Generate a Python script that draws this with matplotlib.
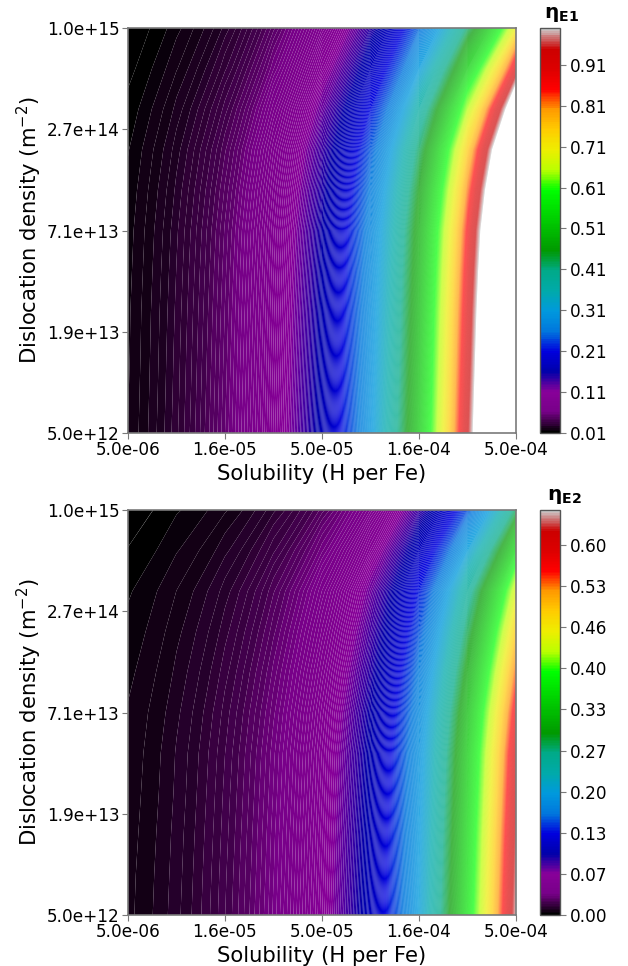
import numpy as np
import matplotlib
matplotlib.use("Agg")
import matplotlib.pyplot as plt

# grid the values were read on
solubility = [5.00e-6, 8.89e-6, 1.58e-5, 2.81e-5, 5.00e-5, 8.89e-5, 1.58e-4, 2.81e-4, 5.00e-4]
dislocation = [5.00e12, 8.49e12, 1.44e13, 2.45e13, 4.16e13, 7.07e13, 1.20e14, 2.04e14, 3.47e14, 5.89e14, 1.00e15]

# one row per dislocation density, bottom to top
eta_e1 = [
    [0.0169, 0.0300, 0.0534, 0.0950, 0.1700, 0.3000, 0.5220, 0.9400, 1.6800],
    [0.0167, 0.0296, 0.0527, 0.0938, 0.1678, 0.2960, 0.5149, 0.9265, 1.6545],
    [0.0165, 0.0293, 0.0520, 0.0926, 0.1656, 0.2919, 0.5079, 0.9130, 1.6290],
    [0.0164, 0.0289, 0.0513, 0.0913, 0.1634, 0.2879, 0.5008, 0.8994, 1.6036],
    [0.0161, 0.0284, 0.0504, 0.0897, 0.1605, 0.2826, 0.4915, 0.8818, 1.5702],
    [0.0158, 0.0278, 0.0493, 0.0877, 0.1568, 0.2760, 0.4798, 0.8594, 1.5281],
    [0.0152, 0.0266, 0.0470, 0.0837, 0.1495, 0.2626, 0.4564, 0.8147, 1.4438],
    [0.0144, 0.0249, 0.0438, 0.0780, 0.1392, 0.2439, 0.4235, 0.7518, 1.3252],
    [0.0130, 0.0222, 0.0385, 0.0687, 0.1224, 0.2132, 0.3697, 0.6488, 1.1312],
    [0.0114, 0.0189, 0.0323, 0.0577, 0.1026, 0.1771, 0.3063, 0.5276, 0.9029],
    [0.0100, 0.0160, 0.0268, 0.0480, 0.0850, 0.1450, 0.2500, 0.4200, 0.7000],
]
eta_e2 = [
    [0.0060, 0.0108, 0.0194, 0.0345, 0.0615, 0.1095, 0.2005, 0.3670, 0.6500],
    [0.0059, 0.0106, 0.0191, 0.0339, 0.0605, 0.1078, 0.1975, 0.3614, 0.6403],
    [0.0057, 0.0104, 0.0187, 0.0334, 0.0595, 0.1061, 0.1945, 0.3558, 0.6305],
    [0.0055, 0.0101, 0.0183, 0.0326, 0.0582, 0.1039, 0.1906, 0.3485, 0.6178],
    [0.0053, 0.0099, 0.0178, 0.0319, 0.0569, 0.1016, 0.1866, 0.3412, 0.6050],
    [0.0050, 0.0093, 0.0169, 0.0303, 0.0543, 0.0971, 0.1786, 0.3262, 0.5788],
    [0.0044, 0.0085, 0.0155, 0.0281, 0.0504, 0.0903, 0.1667, 0.3040, 0.5401],
    [0.0037, 0.0076, 0.0139, 0.0254, 0.0458, 0.0824, 0.1527, 0.2780, 0.4948],
    [0.0030, 0.0065, 0.0121, 0.0224, 0.0406, 0.0735, 0.1370, 0.2488, 0.4438],
    [0.0017, 0.0047, 0.0092, 0.0174, 0.0320, 0.0587, 0.1109, 0.2002, 0.3590],
    [0.0005, 0.0030, 0.0062, 0.0125, 0.0235, 0.0440, 0.0850, 0.1520, 0.2750],
]

x_ticks = [5.0e-6, 1.58e-5, 5.0e-5, 1.58e-4, 5.0e-4]
x_labels = ["5.0e-06", "1.6e-05", "5.0e-05", "1.6e-04", "5.0e-04"]
y_ticks = [5.0e12, 1.88e13, 7.07e13, 2.66e14, 1.0e15]
y_labels = ["5.0e+12", "1.9e+13", "7.1e+13", "2.7e+14", "1.0e+15"]

e1_range = (0.01, 1.0)
e1_ticks = [0.01, 0.11, 0.21, 0.31, 0.41, 0.51, 0.61, 0.71, 0.81, 0.91]
e2_range = (0.0, 0.655)
e2_ticks = [0.0, 0.0665, 0.133, 0.1995, 0.266, 0.3325, 0.399, 0.4655, 0.532, 0.5985]
e2_labels = ["0.00", "0.07", "0.13", "0.20", "0.27", "0.33", "0.40", "0.46", "0.53", "0.60"]

W, H = 628, 966
EDGE = "#7a7a7a"


def panel(fig, top_px, eta, val_range, n_levels, ticks, tick_labels, title, title_x):
    ax = fig.add_axes([128 / W, 1 - (top_px + 405) / H, 388 / W, 405 / H])
    levels = np.linspace(val_range[0], val_range[1], n_levels)
    cf = ax.contourf(solubility, dislocation, eta, levels=levels,
                     cmap="nipy_spectral", antialiased=True)
    ax.set_xscale("log")
    ax.set_yscale("log")
    ax.set_xlim(solubility[0], solubility[-1])
    ax.set_ylim(dislocation[0], dislocation[-1])
    ax.set_xticks(x_ticks, x_labels)
    ax.set_yticks(y_ticks, y_labels)
    ax.minorticks_off()
    ax.tick_params(labelsize=12.2, pad=2, color=EDGE, length=4)
    ax.set_xlabel("Solubility (H per Fe)", fontsize=15.2, labelpad=3)
    ax.set_ylabel("Dislocation density (m$^{-2}$)", fontsize=15.2, labelpad=2)
    for s in ax.spines.values():
        s.set_color(EDGE)
        s.set_linewidth(1.2)

    cax = fig.add_axes([540 / W, 1 - (top_px + 405) / H, 20 / W, 405 / H])
    cb = fig.colorbar(cf, cax=cax, ticks=ticks)
    cb.ax.set_yticklabels(tick_labels)
    cb.ax.minorticks_off()
    cb.ax.tick_params(labelsize=12.2, length=4, pad=3, color=EDGE)
    cb.outline.set_edgecolor("#555555")
    cb.outline.set_linewidth(1.0)
    fig.text(title_x / W, 1 - (top_px - 10) / H, title, fontsize=14.5, ha="left", va="baseline")


fig = plt.figure(figsize=(W / 100, H / 100), dpi=100)
panel(fig, 28, eta_e1, e1_range, 434, e1_ticks, [f"{t:.2f}" for t in e1_ticks],
      r"$\mathbf{\eta_{E1}}$", 544)
panel(fig, 510, eta_e2, e2_range, 405, e2_ticks, e2_labels,
      r"$\mathbf{\eta_{E2}}$", 547)
fig.savefig("out.png", dpi=100)
